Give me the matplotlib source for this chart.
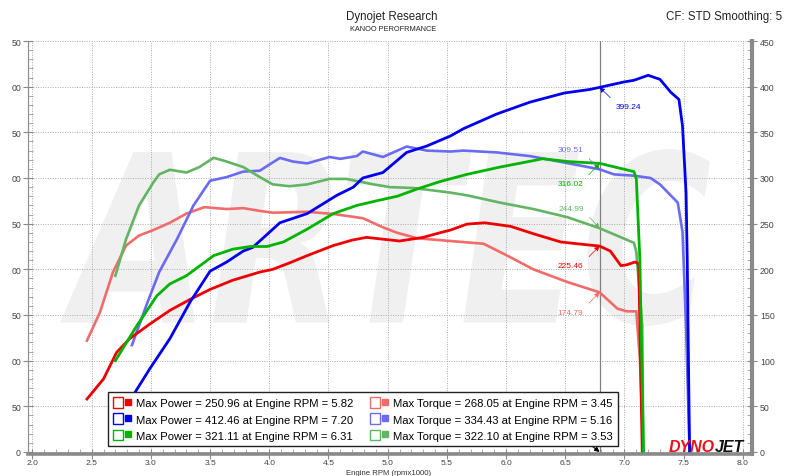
import numpy as np
import matplotlib
matplotlib.use("Agg")
import matplotlib.pyplot as plt
from matplotlib.textpath import TextPath
from matplotlib.patches import PathPatch, Patch
from matplotlib.font_manager import FontProperties
from matplotlib.transforms import Affine2D
from matplotlib.ticker import MultipleLocator
from matplotlib.lines import Line2D
from matplotlib.legend_handler import HandlerTuple

# run 1 (red)
run1_power_rpm = [2.46, 2.60, 2.71, 2.82, 2.99, 3.16, 3.33, 3.50, 3.69, 3.92, 4.03, 4.17, 4.32,
                  4.54, 4.70, 4.82, 4.96, 5.10, 5.30, 5.44, 5.53, 5.67, 5.82, 6.04, 6.23, 6.46,
                  6.60, 6.79, 6.88, 6.97, 7.02, 7.09, 7.12, 7.15]
run1_power = [58, 80, 109, 124, 140, 155, 167, 178, 188, 197, 200, 207, 215,
              226, 232, 235, 233, 231, 235, 240, 243, 249.5, 250.96, 247, 239, 230,
              228, 225.46, 220, 204, 205, 208, 206, 0]
run1_torque_rpm = [2.46, 2.57, 2.68, 2.79, 2.90, 3.02, 3.16, 3.30, 3.45, 3.64, 3.78, 3.92, 4.03,
                   4.32, 4.54, 4.79, 4.96, 5.08, 5.25, 5.53, 5.81, 6.01, 6.23, 6.52, 6.79, 6.94,
                   7.02, 7.10, 7.13, 7.16]
run1_torque = [122, 153, 197, 226, 237, 243, 251, 261, 268.05, 266, 267, 264, 262,
               263, 260.6, 256, 246, 240, 234, 231, 228, 215, 200, 186, 174.79, 157,
               154, 154, 102, 0]

# run 2 (blue)
run2_power_rpm = [2.80, 2.85, 2.99, 3.16, 3.33, 3.50, 3.64, 3.78, 3.86, 4.09, 4.32, 4.57, 4.71,
                  4.79, 4.96, 5.16, 5.33, 5.53, 5.64, 5.92, 6.20, 6.49, 6.71, 6.79, 6.99, 7.08,
                  7.20, 7.30, 7.39, 7.46, 7.49, 7.52, 7.53, 7.54, 7.55]
run2_power = [52, 62, 91, 124, 164, 198, 208, 220, 224, 251, 261, 281, 290,
              300, 306, 328, 335, 346, 354, 370, 383, 393, 397, 399.24, 405, 407,
              412.46, 408, 394, 386, 357, 284, 211, 102, 0]
run2_torque_rpm = [2.84, 2.96, 3.07, 3.22, 3.36, 3.50, 3.64, 3.78, 3.92, 3.98, 4.09, 4.20, 4.32,
                   4.51, 4.60, 4.74, 4.79, 4.96, 5.16, 5.33, 5.53, 5.64, 5.92, 6.20, 6.49, 6.79,
                   6.91, 7.08, 7.22, 7.30, 7.45, 7.49, 7.52, 7.55]
run2_torque = [117, 160, 197, 233, 270, 297, 301, 307, 308, 313, 322, 318, 316,
               323, 321, 324, 329, 323, 334.43, 330, 329, 330, 328, 324, 317, 309.51,
               304, 302.5, 300, 293, 273, 241, 138, 0]

# run 3 (green)
run3_power_rpm = [2.70, 2.88, 3.05, 3.16, 3.30, 3.53, 3.69, 3.84, 3.98, 4.12, 4.32, 4.54, 4.74,
                  4.94, 5.08, 5.25, 5.44, 5.67, 5.95, 6.23, 6.31, 6.52, 6.79, 7.08, 7.10, 7.13,
                  7.16]
run3_power = [100, 138, 171, 184, 193, 215, 222, 225, 225, 230, 244, 261, 270,
              276, 280, 288, 296, 304, 312, 319, 321.11, 318, 316.02, 307, 299, 211,
              0]
run3_torque_rpm = [2.70, 2.79, 2.90, 3.02, 3.07, 3.16, 3.30, 3.41, 3.53, 3.64, 3.78, 3.92, 4.03,
                   4.17, 4.32, 4.51, 4.65, 4.88, 5.02, 5.22, 5.53, 5.67, 5.95, 6.23, 6.52, 6.79,
                   7.08, 7.10, 7.15, 7.16]
run3_torque = [193, 233, 270, 295, 304, 309, 306, 312, 322.10, 318, 312, 301, 293,
               291, 293, 299, 299, 293, 290, 289, 284, 281, 273, 266, 257, 244.99,
               229, 219, 138, 0]

max_power = [250.96, 412.46, 321.11]
max_power_rpm = [5.82, 7.20, 6.31]
max_torque = [268.05, 334.43, 322.10]
max_torque_rpm = [3.45, 5.16, 3.53]

cursor_rpm = 6.79
cursor_power = [225.46, 399.24, 316.02]
cursor_torque = [174.79, 309.51, 244.99]

power_colors = ['#ee0000', '#0000ee', '#00b400']
torque_colors = ['#f26b6b', '#6b6bf2', '#62b562']

W, H = 791, 477


def fx(px):
    return px / W


def fy(py):
    return 1 - py / H


fig = plt.figure(figsize=(W / 100, H / 100), dpi=100)
ax = fig.add_axes([fx(28), fy(455), fx(752) - fx(28), fy(42) - fy(455)])
ax.set_xlim(1.962, 8.077)
ax.set_ylim(-2.2, 450)
ax.set_axisbelow(True)

# watermark
wm = TextPath((0, 0), 'ARTEC', size=100,
              prop=FontProperties(family='DejaVu Sans', weight='bold', style='italic'))
ext = wm.get_extents()
tr = (Affine2D().translate(-ext.x0, -ext.y0)
      .scale((710 - 60) / ext.width / W, (327 - 150) / ext.height / H)
      .translate(fx(60), fy(327)) + fig.transFigure)
ax.add_patch(PathPatch(wm, transform=tr, facecolor='#f0f0f0', edgecolor='none', zorder=0.3))

ax.grid(True, which='major', color='#aaaaaa', linestyle=(0, (1, 1.5)), linewidth=0.7)

runs = [
    (run1_power_rpm, run1_power, run1_torque_rpm, run1_torque),
    (run2_power_rpm, run2_power, run2_torque_rpm, run2_torque),
    (run3_power_rpm, run3_power, run3_torque_rpm, run3_torque),
]
for i, (prpm, p, trpm, t) in enumerate(runs):
    ax.plot(trpm, t, color=torque_colors[i], lw=1.9, zorder=2)
for i, (prpm, p, trpm, t) in enumerate(runs):
    ax.plot(prpm, p, color=power_colors[i], lw=2.0, zorder=2.1)

# cursor
ax.axvline(cursor_rpm, color='#808080', lw=0.9, zorder=1.8)
ax.annotate('', xy=(cursor_rpm, 0), xytext=(-9, 7), textcoords='offset points',
            arrowprops=dict(arrowstyle='-|>', color='black', lw=0.8, mutation_scale=7,
                            shrinkA=0, shrinkB=0))

power_offsets = [(-20.9, -14.1), (20.9, -13.8), (-20.9, -14.8)]
power_relpos = [(1, 1), (0, 1), (1, 1)]
torque_offsets = [(-20.9, -14.4), (-20.9, 14.1), (-20.2, 14.4)]
torque_relpos = [(1, 1), (1, 0), (1, 0)]
for i in range(3):
    for val, col, off, rp in [(cursor_power[i], power_colors[i], power_offsets[i], power_relpos[i]),
                              (cursor_torque[i], torque_colors[i], torque_offsets[i], torque_relpos[i])]:
        ax.annotate(f'{val:.2f}', xy=(cursor_rpm, val), xytext=off, textcoords='offset points',
                    ha='center', va='center', fontsize=6.0, color=col, family='Liberation Sans',
                    zorder=4,
                    arrowprops=dict(arrowstyle='-|>', color=col, lw=0.6, linestyle=(0, (1, 1)),
                                    mutation_scale=7, shrinkA=3, shrinkB=0, relpos=rp))

# axes styling
ax.spines['top'].set_visible(False)
ax.spines['left'].set_color('#909090')
ax.spines['left'].set_linewidth(0.9)
ax.spines['bottom'].set_color('#8a8a8a')
ax.spines['bottom'].set_linewidth(2.6)
ax.spines['right'].set_color('#8a8a8a')
ax.spines['right'].set_linewidth(3.0)

ax.xaxis.set_major_locator(MultipleLocator(0.5))
ax.xaxis.set_minor_locator(MultipleLocator(0.1))
ax.xaxis.set_major_formatter(lambda v, pos: f'{v:.1f}')
yt = list(range(0, 451, 50))
ax.set_yticks(yt, labels=[str(v)[-2:] for v in yt])
ax.yaxis.set_minor_locator(MultipleLocator(10))

ax.tick_params(axis='both', which='major', direction='inout', length=7.2, width=0.8,
               color='#888888', labelsize=6.3, labelcolor='#444444', pad=1.5,
               left=True, right=True, labelright=False)
ax.tick_params(axis='x', which='major', pad=0.2, labelsize=6.1)
ax.tick_params(axis='both', which='minor', direction='in', length=3.6, width=0.6,
               color='#999999', left=True, right=True)
for lab in ax.get_xticklabels() + ax.get_yticklabels():
    lab.set_family('Liberation Sans')

sec = ax.secondary_yaxis('right')
sec.set_yticks(yt)
sec.tick_params(length=0, pad=5.8, labelsize=6.3, labelcolor='#444444')
sec.spines['right'].set_visible(False)
for lab in sec.get_yticklabels():
    lab.set_family('Liberation Sans')

# legend
handles, labels = [], []
for c, v, r in zip(power_colors, max_power, max_power_rpm):
    handles.append((Patch(facecolor='white', edgecolor=c, linewidth=1.0),
                    Line2D([], [], marker='s', color=c, markersize=5, linestyle='none')))
    labels.append(f'Max Power = {v:.2f} at Engine RPM = {r:.2f}')
for c, v, r in zip(torque_colors, max_torque, max_torque_rpm):
    handles.append((Patch(facecolor='white', edgecolor=c, linewidth=1.0),
                    Line2D([], [], marker='s', color=c, markersize=5, linestyle='none')))
    labels.append(f'Max Torque = {v:.2f} at Engine RPM = {r:.2f}')
leg = ax.legend(handles, labels, ncol=2, loc='upper left',
                bbox_to_anchor=(fx(108), fy(393)), bbox_transform=fig.transFigure,
                handler_map={tuple: HandlerTuple(ndivide=None, pad=0)},
                prop=FontProperties(family='Liberation Sans', size=8.1),
                frameon=True, fancybox=False, edgecolor='#222222', framealpha=1,
                borderpad=0.45, labelspacing=0.45, handlelength=1.78, handleheight=1.1,
                handletextpad=0.22, columnspacing=1.55, borderaxespad=0)
leg.get_frame().set_linewidth(1.0)
leg.set_zorder(5)

# titles and logo
fig.text(fx(392), fy(17), 'Dynojet Research', ha='center', va='center', fontsize=8.3,
         family='Liberation Sans', color='#222222')
fig.text(fx(393), fy(29.5), 'KANOO PEROFRMANCE', ha='center', va='center', fontsize=5.3,
         family='Liberation Sans', color='#222222')
fig.text(fx(666), fy(17), 'CF: STD Smoothing: 5', ha='left', va='center', fontsize=8.3,
         family='Liberation Sans', color='#222222')
fig.text(fx(389), fy(474), 'Engine RPM (rpmx1000)', ha='center', va='center', fontsize=5.6,
         family='Liberation Sans', color='#333333')
fig.text(fx(715), fy(452), 'DYNO', ha='right', va='baseline', fontsize=11.5,
         family='Liberation Sans', weight='bold', style='italic', color='#e8101a', zorder=6)
fig.text(fx(715), fy(452), 'JET', ha='left', va='baseline', fontsize=11.5,
         family='Liberation Sans', weight='bold', style='italic', color='#111111', zorder=6)

fig.savefig('out.png', dpi=100)
